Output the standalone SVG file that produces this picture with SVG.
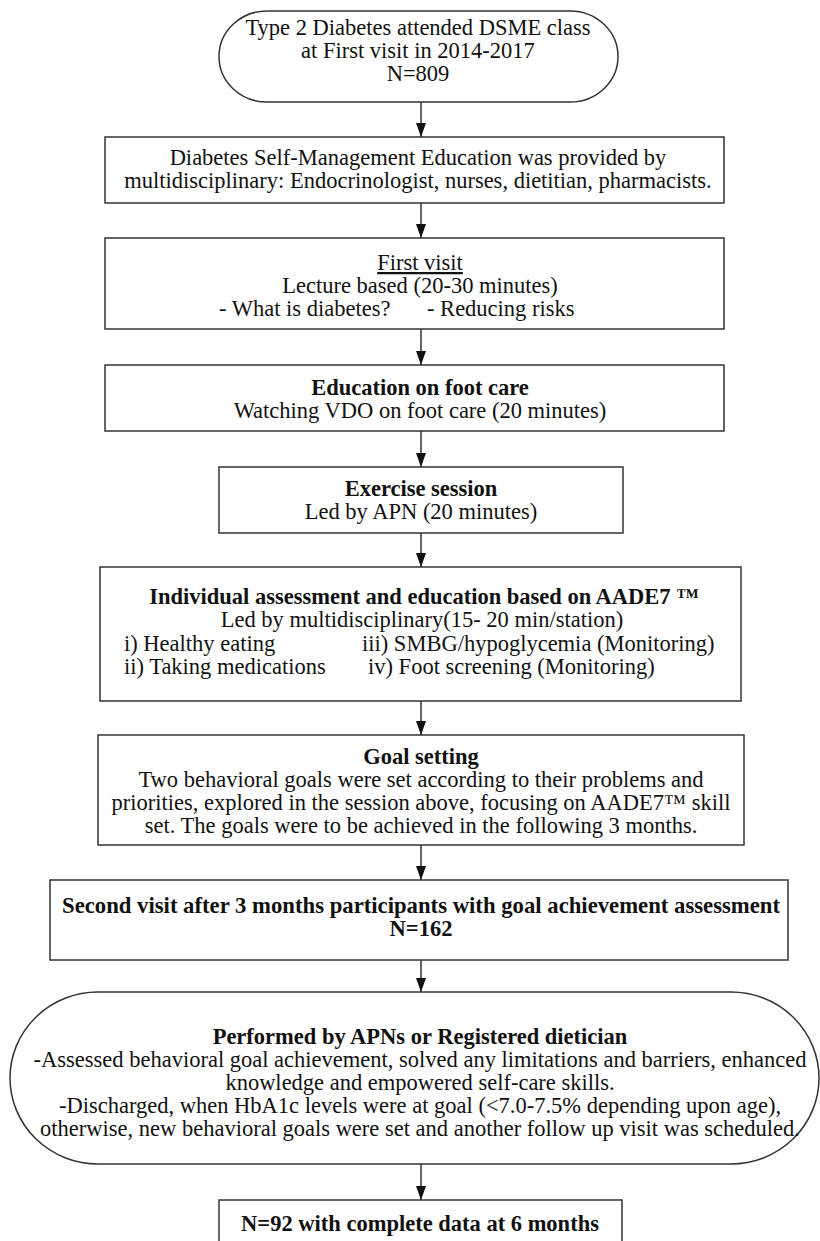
<svg xmlns="http://www.w3.org/2000/svg" width="820" height="1241" viewBox="0 0 820 1241">
<defs>
<style>
.box{fill:#fff;stroke:#333;stroke-width:1.5}
.t{font-family:"Liberation Serif","Times New Roman",serif;font-size:22.5px;fill:#111;text-anchor:middle}
.b{font-weight:bold}
.l{text-anchor:start}
.u{text-decoration:underline}
.c{stroke:#333;stroke-width:1.5;fill:none;marker-end:url(#ah)}
</style>
<marker id="ah" viewBox="0 0 14 10" refX="14" refY="5" markerWidth="14" markerHeight="10" markerUnits="userSpaceOnUse" orient="auto">
<path d="M0,0 L14,5 L0,10 Z" fill="#111"/>
</marker>
</defs>
<rect width="820" height="1241" fill="#fff"/>

<g id="connectors">
<line class="c" x1="421" y1="102" x2="421" y2="137"/>
<line class="c" x1="421" y1="203" x2="421" y2="238"/>
<line class="c" x1="421" y1="329" x2="421" y2="365"/>
<line class="c" x1="421" y1="431" x2="421" y2="467"/>
<line class="c" x1="421" y1="533" x2="421" y2="567"/>
<line class="c" x1="421" y1="701" x2="421" y2="735"/>
<line class="c" x1="421" y1="845" x2="421" y2="880"/>
<line class="c" x1="421" y1="960" x2="421" y2="992"/>
<line class="c" x1="421" y1="1164" x2="421" y2="1200"/>
</g>

<g id="n1">
<rect class="box" x="219" y="11" width="399" height="91" rx="48" ry="45.5"/>
<text class="t" x="418" y="35">Type 2 Diabetes attended DSME class</text>
<text class="t" x="418" y="58">at First visit in 2014-2017</text>
<text class="t" x="418" y="81">N=809</text>
</g>

<g id="n2">
<rect class="box" x="105" y="137" width="619" height="66"/>
<text class="t" x="418" y="165">Diabetes Self-Management Education was provided by</text>
<text class="t" x="418" y="188">multidisciplinary: Endocrinologist, nurses, dietitian, pharmacists.</text>
</g>

<g id="n3">
<rect class="box" x="105" y="238" width="619" height="91"/>
<text class="t u" x="420" y="270">First visit</text>
<text class="t" x="420" y="293">Lecture based (20-30 minutes)</text>
<text class="t l" x="219" y="316">- What is diabetes?</text>
<text class="t l" x="427" y="316">- Reducing risks</text>
</g>

<g id="n4">
<rect class="box" x="105" y="365" width="619" height="66"/>
<text class="t b" x="420" y="395">Education on foot care</text>
<text class="t" x="420" y="418">Watching VDO on foot care (20 minutes)</text>
</g>

<g id="n5">
<rect class="box" x="219" y="467" width="404" height="66"/>
<text class="t b" x="421" y="496">Exercise session</text>
<text class="t" x="421" y="519">Led by APN (20 minutes)</text>
</g>

<g id="n6">
<rect class="box" x="100" y="567" width="641" height="134"/>
<text class="t b" x="424" y="604">Individual assessment and education based on AADE7 ™</text>
<text class="t" x="422" y="627">Led by multidisciplinary(15- 20 min/station)</text>
<text class="t l" x="124" y="651">i) Healthy eating</text>
<text class="t l" x="362" y="651">iii) SMBG/hypoglycemia (Monitoring)</text>
<text class="t l" x="124" y="674">ii) Taking medications</text>
<text class="t l" x="368" y="674">iv) Foot screening (Monitoring)</text>
</g>

<g id="n7">
<rect class="box" x="98" y="735" width="646" height="110"/>
<text class="t b" x="421" y="764">Goal setting</text>
<text class="t" x="421" y="787">Two behavioral goals were set according to their problems and</text>
<text class="t" x="421" y="810">priorities, explored in the session above, focusing on AADE7™ skill</text>
<text class="t" x="421" y="833">set. The goals were to be achieved in the following 3 months.</text>
</g>

<g id="n8">
<rect class="box" x="50" y="880" width="738" height="80"/>
<text class="t b" x="421" y="913" textLength="718" lengthAdjust="spacingAndGlyphs">Second visit after 3 months participants with goal achievement assessment</text>
<text class="t b" x="421" y="936">N=162</text>
</g>

<g id="n9">
<rect class="box" x="10" y="992" width="809" height="172" rx="88" ry="86"/>
<text class="t b" x="420" y="1044">Performed by APNs or Registered dietician</text>
<text class="t" x="420" y="1067">-Assessed behavioral goal achievement, solved any limitations and barriers, enhanced</text>
<text class="t" x="420" y="1090">knowledge and empowered self-care skills.</text>
<text class="t" x="420" y="1113">-Discharged, when HbA1c levels were at goal (&lt;7.0-7.5% depending upon age),</text>
<text class="t" x="420" y="1136">otherwise, new behavioral goals were set and another follow up visit was scheduled.</text>
</g>

<g id="n10">
<rect class="box" x="219" y="1200" width="403" height="60"/>
<text class="t b" x="420" y="1231">N=92 with complete data at 6 months</text>
</g>
</svg>
